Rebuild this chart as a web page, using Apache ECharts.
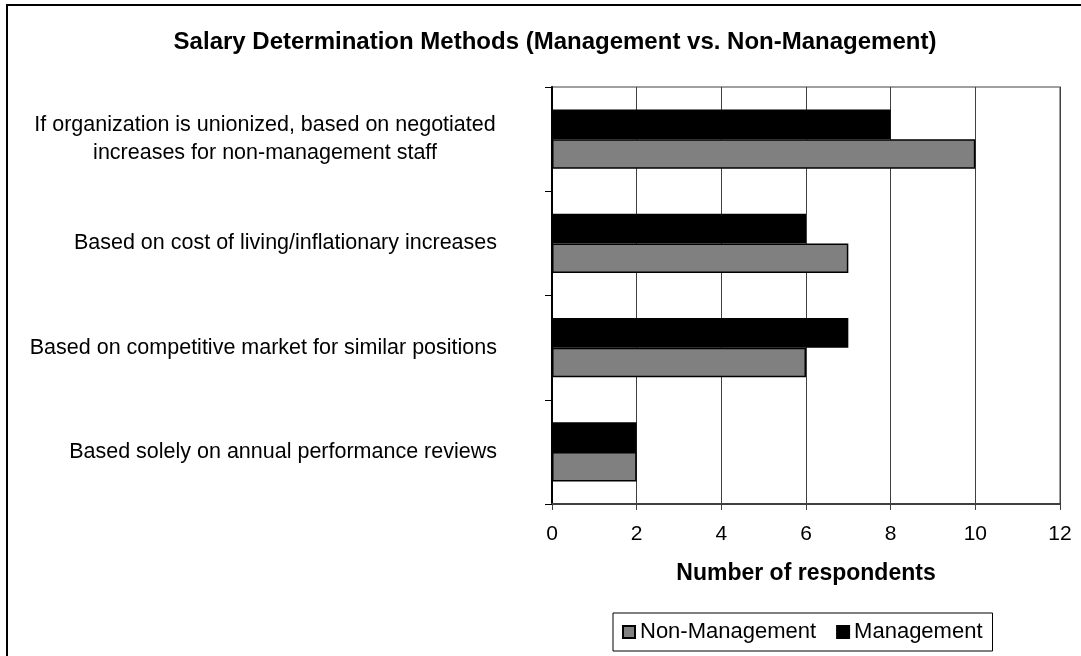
<!DOCTYPE html>
<html>
<head>
<meta charset="utf-8">
<title>Salary Determination Methods</title>
<script src="https://cdn.jsdelivr.net/npm/echarts@6/dist/echarts.min.js"></script>
<style>
  html, body { margin: 0; padding: 0; background: #fff; }
  #chart { width: 1081px; height: 656px; }
</style>
</head>
<body>
<div id="chart"></div>
<script>
// categories, bottom to top (as the value axis grows upwards)
const methods = [
  'Based solely on annual performance reviews',
  'Based on competitive market for similar positions',
  'Based on cost of living/inflationary increases',
  'If organization is unionized, based on negotiated\nincreases for non-management staff'
];
const nonManagement = [2, 6, 7, 10];
const management = [2, 7, 6, 8];
const legendNames = ['Non-Management', 'Management'];

const FONT = 'Liberation Sans, Arial, sans-serif';

let chart = echarts.init(document.getElementById('chart'));

// the two-line label gets centred lines, like the original
function labelFormatter(value) {
  if (value.indexOf('\n') < 0) return value;
  return value.split('\n').map(s => '{c|' + s + '}').join('\n');
}

let option = {
  backgroundColor: '#fff',
  animation: false,
  title: {
    text: 'Salary Determination Methods (Management vs. Non-Management)',
    left: 555,
    top: 30,
    padding: 0,
    textAlign: 'center',
    textStyle: { fontFamily: FONT, fontSize: 24, fontWeight: 'bold', color: '#000' }
  },
  legend: {
    data: legendNames,
    left: 613,
    top: 613,
    padding: [8, 10, 8, 9],
    itemGap: 20,
    itemWidth: 12,
    itemHeight: 12,
    icon: 'rect',
    borderColor: '#000',
    borderWidth: 1,
    textStyle: { fontFamily: FONT, fontSize: 22, color: '#000' }
  },
  grid: {
    left: 552,
    right: 21,
    top: 87,
    bottom: 152,
    show: true,
    borderColor: '#808080',
    borderWidth: 1.5,
    containLabel: false
  },
  xAxis: {
    type: 'value',
    min: 0,
    max: 12,
    interval: 2,
    name: 'Number of respondents',
    nameLocation: 'middle',
    nameGap: 58,
    nameTextStyle: { fontFamily: FONT, fontSize: 23, fontWeight: 'bold', color: '#000' },
    axisLine: { show: true, lineStyle: { color: '#404040', width: 2 } },
    axisTick: { show: true, length: 6, lineStyle: { color: '#404040' } },
    axisLabel: { margin: 20, fontFamily: FONT, fontSize: 21, color: '#000' },
    splitLine: { show: true, lineStyle: { color: '#404040', width: 1 } }
  },
  yAxis: {
    type: 'category',
    data: methods,
    axisLine: { show: true, lineStyle: { color: '#000', width: 2 } },
    axisTick: { show: true, length: 7, lineStyle: { color: '#000' } },
    axisLabel: {
      margin: 55,
      fontFamily: FONT,
      fontSize: 21.5,
      color: '#000',
      formatter: labelFormatter,
      rich: {
        c: { width: 464, align: 'center', fontFamily: FONT, fontSize: 21.5, color: '#000', lineHeight: 28 }
      }
    },
    splitLine: { show: false }
  },
  // first series sits lowest in each group, so Management comes first to be on top
  series: [
    {
      name: 'Management',
      type: 'bar',
      data: management,
      barGap: '0%',
      barCategoryGap: '43%',
      itemStyle: { color: '#000', borderColor: '#000', borderWidth: 1.5 }
    },
    {
      name: 'Non-Management',
      type: 'bar',
      data: nonManagement,
      barGap: '0%',
      barCategoryGap: '43%',
      itemStyle: { color: '#808080', borderColor: '#000', borderWidth: 1.5 }
    }
  ],
  graphic: [
    {
      type: 'rect',
      shape: { x: 7, y: 5, width: 1100, height: 700 },
      style: { fill: 'none', stroke: '#000', lineWidth: 2 },
      silent: true
    }
  ]
};

chart.setOption(option);
</script>
</body>
</html>
